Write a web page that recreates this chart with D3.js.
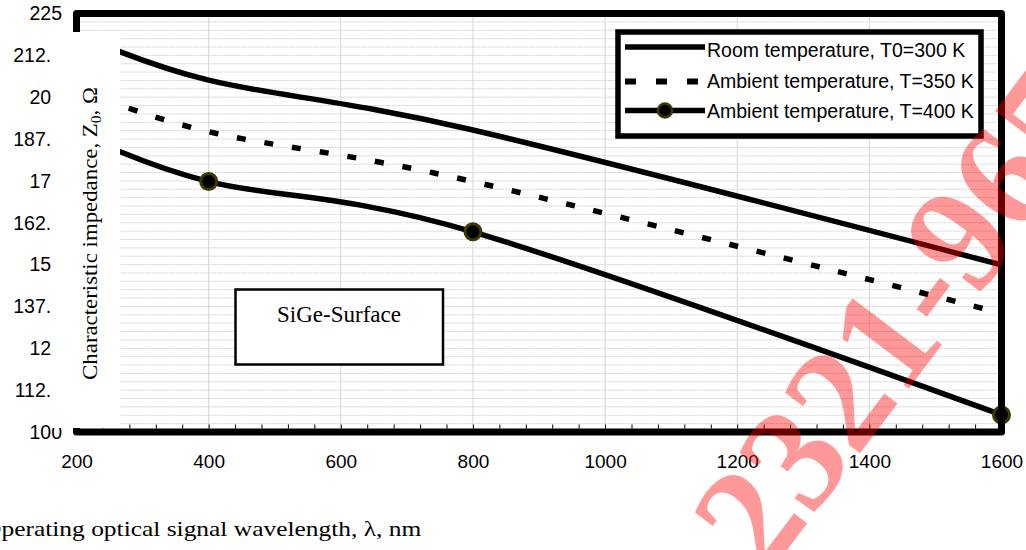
<!DOCTYPE html>
<html>
<head>
<meta charset="utf-8">
<script src="https://cdn.jsdelivr.net/npm/d3@7"></script>
<style>
  body { margin: 0; background: #fff; }
  svg { display: block; }
</style>
</head>
<body>
<svg id="chart" width="1026" height="550"></svg>
<script>
// Characteristic impedance vs. operating wavelength for three temperatures
const wavelengths = [200, 400, 800, 1600];
const roomTemp300 = [219, 205.1, 190.2, 149.9];
const ambient350 = [202.5, 189.7, 174.8, 135.5];
const ambient400 = [189.5, 174.8, 159.8, 105.1];
const seriesNames = [
  "Room temperature, T0=300 K",
  "Ambient temperature, T=350 K",
  "Ambient temperature, T=400 K"
];
const xTicks = [200, 400, 600, 800, 1000, 1200, 1400, 1600];
const yTicks = [100, 112.5, 125, 137.5, 150, 162.5, 175, 187.5, 200, 212.5, 225];
const yTickLabels = ["100", "112.5", "125", "137.5", "150", "162.5", "175", "187.5", "200", "212.5", "225"];
const xTitle = "Operating optical signal wavelength, λ, nm";
const yTitle = ["Characteristic impedance, Z", "0", ", Ω"];
const annotation = "SiGe-Surface";
const watermark = "2321-9653";

const svg = d3.select("#chart");
const W = 1026, H = 550;
const plot = { left: 76.5, right: 1001.5, top: 13.5, bottom: 432 };

const x = d3.scaleLinear().domain([200, 1600]).range([plot.left, plot.right]);
const y = d3.scaleLinear().domain([100, 225]).range([plot.bottom, plot.top]);

const sans = "'Liberation Sans', Arial, sans-serif";
const serif = "'Liberation Serif', 'Times New Roman', serif";

svg.append("rect").attr("width", W).attr("height", H).attr("fill", "#fff");

// gridlines
const grid = svg.append("g");
grid.selectAll("line.h")
  .data(d3.range(100, 225.01, 2.5))
  .join("line")
  .attr("x1", plot.left).attr("x2", plot.right)
  .attr("y1", d => y(d)).attr("y2", d => y(d))
  .attr("stroke", "#d2d2d2").attr("stroke-width", 1)
  .attr("stroke-dasharray", "2 1");
grid.selectAll("line.v")
  .data(xTicks)
  .join("line")
  .attr("x1", d => x(d)).attr("x2", d => x(d))
  .attr("y1", plot.top).attr("y2", plot.bottom)
  .attr("stroke", "#d6d6d6").attr("stroke-width", 1);

// series
const series = [
  { name: seriesNames[0], values: roomTemp300, dash: null, markers: false },
  { name: seriesNames[1], values: ambient350, dash: "9 19", markers: false },
  { name: seriesNames[2], values: ambient400, dash: null, markers: true }
];
const line = d3.line()
  .x(d => x(d[0])).y(d => y(d[1]))
  .curve(d3.curveCardinal.tension(0));

series.forEach(s => {
  const pts = wavelengths.map((w, i) => [w, s.values[i]]);
  svg.append("path")
    .attr("d", line(pts))
    .attr("fill", "none")
    .attr("stroke", "#000")
    .attr("stroke-width", 5.5)
    .attr("stroke-dasharray", s.dash);
  if (s.markers) {
    svg.append("g").selectAll("circle")
      .data(pts)
      .join("circle")
      .attr("cx", d => x(d[0])).attr("cy", d => y(d[1]))
      .attr("r", 8)
      .attr("fill", "#000")
      .attr("stroke", "#3d3a00")
      .attr("stroke-width", 3);
  }
});

// frame
svg.append("rect")
  .attr("x", plot.left).attr("y", plot.top)
  .attr("width", plot.right - plot.left).attr("height", plot.bottom - plot.top)
  .attr("fill", "none").attr("stroke", "#000").attr("stroke-width", 7)
  .attr("stroke-linejoin", "round");

// minor ticks standing on the x axis
const minorAxis = svg.append("g")
  .attr("transform", `translate(0,${plot.bottom - 3.5})`)
  .call(d3.axisTop(x).tickValues(d3.range(200, 1600.01, 40)).tickSize(4).tickSizeOuter(0).tickFormat(""));
minorAxis.select(".domain").remove();
minorAxis.selectAll("line").attr("stroke", "#000").attr("stroke-width", 1);

// x tick labels
const xAxis = svg.append("g")
  .attr("transform", `translate(0,${plot.bottom})`)
  .call(d3.axisBottom(x).tickValues(xTicks).tickSize(0).tickPadding(22.5).tickFormat(d3.format("d")));
xAxis.select(".domain").remove();
xAxis.selectAll("text")
  .attr("font-family", sans).attr("font-size", 19).attr("fill", "#000");

// y tick labels
const yAxis = svg.append("g")
  .attr("transform", "translate(62,0)")
  .call(d3.axisLeft(y).tickValues(yTicks).tickSize(0).tickPadding(0)
    .tickFormat((d, i) => yTickLabels[i]));
yAxis.select(".domain").remove();
yAxis.selectAll("text")
  .attr("font-family", sans).attr("font-size", 19.5).attr("fill", "#000");

// y title panel (sits over the label column and the left frame edge)
svg.append("rect")
  .attr("x", 51).attr("y", 32).attr("width", 69).attr("height", 396)
  .attr("fill", "#fff");

const yt = svg.append("text")
  .attr("font-family", serif).attr("font-size", 22).attr("fill", "#000")
  .attr("text-anchor", "middle");
yt.append("tspan").text(yTitle[0]);
yt.append("tspan").attr("font-size", 15).attr("dy", 4).text(yTitle[1]);
yt.append("tspan").attr("dy", -4).text(yTitle[2]);
{
  const w = yt.node().getComputedTextLength();
  const sx = 293 / w;
  yt.attr("transform", `translate(96.5,233.5) rotate(-90) scale(${sx},1)`);
}

// legend
const legend = svg.append("g");
legend.append("rect")
  .attr("x", 618).attr("y", 32).attr("width", 363).attr("height", 104)
  .attr("fill", "#fff").attr("stroke", "#000").attr("stroke-width", 5.5);
const rowY = [47, 81.5, 110.5];
const rowBase = [56.5, 88, 117.5];
series.forEach((s, i) => {
  legend.append("line")
    .attr("x1", 625).attr("x2", s.dash ? 698 : 705)
    .attr("y1", rowY[i]).attr("y2", rowY[i])
    .attr("stroke", "#000").attr("stroke-width", s.dash ? 6 : 5.5)
    .attr("stroke-dasharray", s.dash ? "11 20" : null);
  if (s.markers) {
    legend.append("circle")
      .attr("cx", 665).attr("cy", rowY[i]).attr("r", 7)
      .attr("fill", "#000").attr("stroke", "#3d3a00").attr("stroke-width", 2.5);
  }
  legend.append("text")
    .attr("x", 707).attr("y", rowBase[i])
    .attr("font-family", sans).attr("font-size", 19.5).attr("fill", "#000")
    .text(s.name);
});

// annotation box
svg.append("rect")
  .attr("x", 235.5).attr("y", 289.5).attr("width", 207.5).attr("height", 75)
  .attr("fill", "#fff").attr("stroke", "#000").attr("stroke-width", 2.5);
svg.append("text")
  .attr("x", 339).attr("y", 321.5).attr("text-anchor", "middle")
  .attr("font-family", serif).attr("font-size", 23).attr("fill", "#000")
  .text(annotation);

// x title (its first letter runs past the left edge)
const xt = svg.append("text")
  .attr("font-family", serif).attr("font-size", 22).attr("fill", "#000")
  .text(xTitle);
{
  const node = xt.node();
  const full = node.getComputedTextLength();
  const first = node.getSubStringLength(0, 1);
  const sx = 420.2 / (full - first);
  xt.attr("transform", `translate(${1.5 - first * sx},536) scale(${sx},1)`);
}

// watermark
svg.append("text")
  .attr("transform", "translate(766,578) rotate(-53)")
  .attr("font-family", serif).attr("font-weight", "bold")
  .attr("font-size", 150)
  .attr("fill", "#ff0000").attr("fill-opacity", 0.4)
  .text(watermark);
</script>
</body>
</html>
